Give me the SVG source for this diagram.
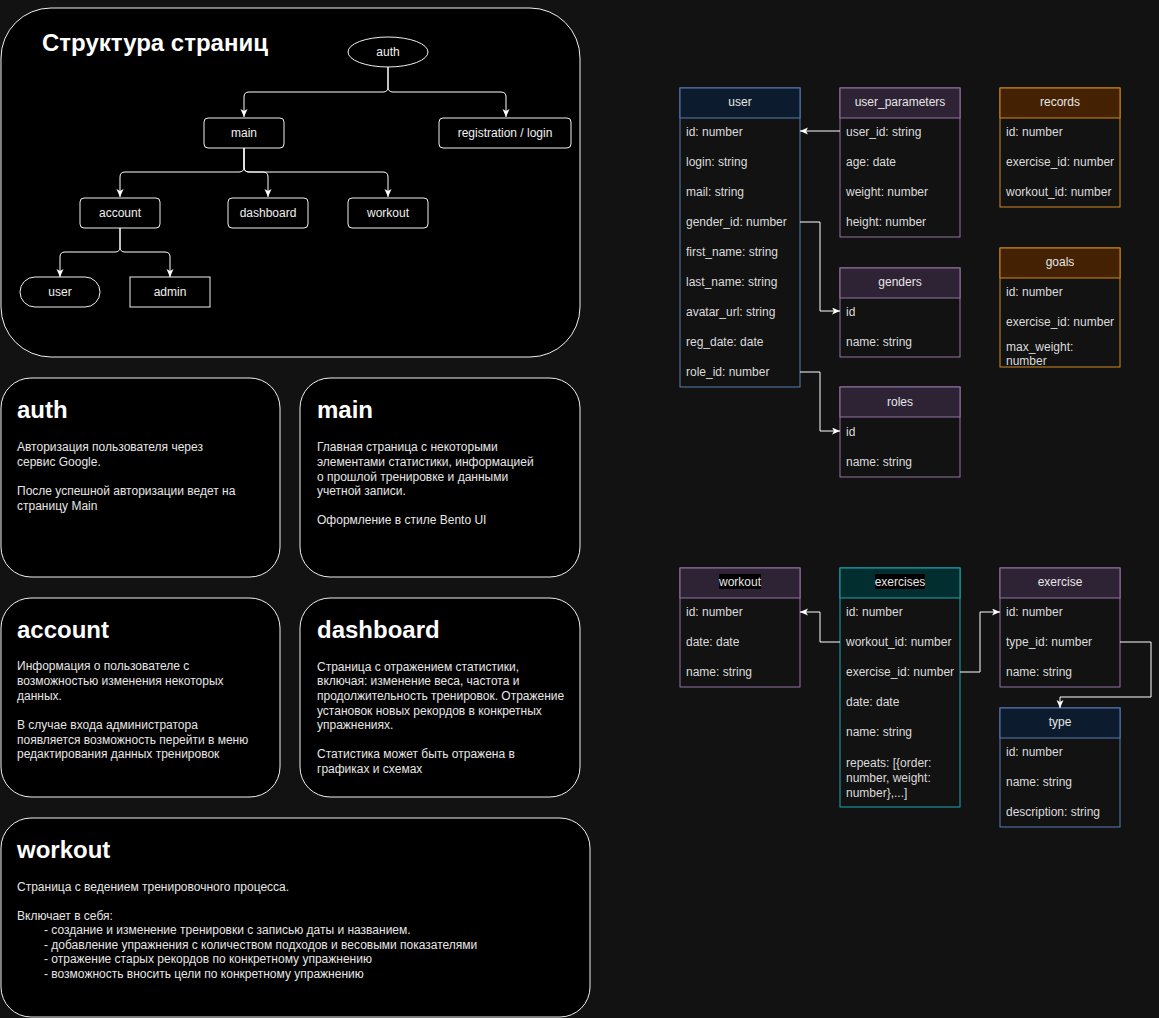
<svg xmlns="http://www.w3.org/2000/svg" width="1159" height="1018" viewBox="0 0 1159 1018">
<style>
.bg{fill:#121212}
.card{fill:#000;stroke:#f0f0f0;stroke-width:1}
.nd{fill:#000;stroke:#f0f0f0;stroke-width:1}
.nt{font-family:"Liberation Sans",Arial,sans-serif;font-size:12px;fill:#f0f0f0;text-anchor:middle}
.h1{font-family:"Liberation Sans",Arial,sans-serif;font-size:24px;font-weight:bold;fill:#ffffff}
.bt{font-family:"Liberation Sans",Arial,sans-serif;font-size:12px;fill:#e6e6e6}
.edge{fill:none;stroke:#ffffff;stroke-width:1}
.body{fill:#121212}
.ht{font-family:"Liberation Sans",Arial,sans-serif;font-size:12px;fill:#e6e6e6;text-anchor:middle}
.rt{font-family:"Liberation Sans",Arial,sans-serif;font-size:12px;fill:#dcdcdc}
.blue .hd{fill:#0c1b2d;stroke:#5a7db3}
.blue .body{stroke:#5a7db3}
.purple .hd{fill:#2e2235;stroke:#9673a6}
.purple .body{stroke:#9673a6}
.orange .hd{fill:#432102;stroke:#d08a21}
.orange .body{stroke:#d08a21}
.teal .hd{fill:#032e2f;stroke:#1ba6b0}
.teal .body{stroke:#1ba6b0}
</style>
<defs>
<marker id="arr" markerUnits="userSpaceOnUse" markerWidth="10" markerHeight="8" refX="8" refY="3.5" orient="auto">
<path d="M0,0 L8,3.5 L0,7 L2,3.5 Z" fill="#ffffff"/>
</marker>
</defs>
<rect class="bg" x="0" y="0" width="1159" height="1018"/>

<g id="structure">
<rect class="card" x="1" y="8" width="579" height="349" rx="50" ry="50"/>
<text class="h1" x="42" y="51">Структура страниц</text>
</g>
<g id="n-auth"><ellipse class="nd" cx="388" cy="52" rx="40" ry="15"/><text class="nt" x="388" y="56">auth</text></g>
<g id="n-main"><rect class="nd" x="204" y="118" width="80" height="30" rx="4"/><text class="nt" x="244" y="137">main</text></g>
<g id="n-reg"><rect class="nd" x="439" y="118" width="132" height="30" rx="4"/><text class="nt" x="505" y="137">registration / login</text></g>
<g id="n-account"><rect class="nd" x="80" y="198" width="80" height="30" rx="4"/><text class="nt" x="120" y="217">account</text></g>
<g id="n-dashboard"><rect class="nd" x="228" y="198" width="80" height="30" rx="4"/><text class="nt" x="268" y="217">dashboard</text></g>
<g id="n-workout"><rect class="nd" x="348" y="198" width="80" height="30" rx="4"/><text class="nt" x="388" y="217">workout</text></g>
<g id="n-user"><rect class="nd" x="20" y="277" width="80" height="30" rx="15"/><text class="nt" x="60" y="296">user</text></g>
<g id="n-admin"><rect class="nd" x="130" y="277" width="80" height="30"/><text class="nt" x="170" y="296">admin</text></g>

<g id="card-auth">
<rect class="card" x="1" y="378" width="279" height="199" rx="30"/>
<text class="h1" x="17" y="418">auth</text>
<text class="bt" x="17" y="451">Авторизация пользователя через</text>
<text class="bt" x="17" y="466">сервис Google.</text>
<text class="bt" x="17" y="495">После успешной авторизации ведет на</text>
<text class="bt" x="17" y="510">страницу Main</text>
</g>
<g id="card-main">
<rect class="card" x="300" y="378" width="280" height="199" rx="30"/>
<text class="h1" x="317" y="418">main</text>
<text class="bt" x="317" y="451">Главная страница с некоторыми</text>
<text class="bt" x="317" y="466">элементами статистики, информацией</text>
<text class="bt" x="317" y="481">о прошлой тренировке и данными</text>
<text class="bt" x="317" y="495">учетной записи.</text>
<text class="bt" x="317" y="524">Оформление в стиле Bento UI</text>
</g>
<g id="card-account">
<rect class="card" x="1" y="598" width="279" height="199" rx="30"/>
<text class="h1" x="17" y="638">account</text>
<text class="bt" x="17" y="670">Информация о пользователе с</text>
<text class="bt" x="17" y="685">возможностью изменения некоторых</text>
<text class="bt" x="17" y="700">данных.</text>
<text class="bt" x="17" y="729">В случае входа администратора</text>
<text class="bt" x="17" y="744">появляется возможность перейти в меню</text>
<text class="bt" x="17" y="758">редактирования данных тренировок</text>
</g>
<g id="card-dashboard">
<rect class="card" x="300" y="598" width="280" height="199" rx="30"/>
<text class="h1" x="317" y="638">dashboard</text>
<text class="bt" x="317" y="671">Страница с отражением статистики,</text>
<text class="bt" x="317" y="685">включая: изменение веса, частота и</text>
<text class="bt" x="317" y="700">продолжительность тренировок. Отражение</text>
<text class="bt" x="317" y="715">установок новых рекордов в конкретных</text>
<text class="bt" x="317" y="729">упражнениях.</text>
<text class="bt" x="317" y="758">Статистика может быть отражена в</text>
<text class="bt" x="317" y="773">графиках и схемах</text>
</g>
<g id="card-workout">
<rect class="card" x="1" y="818" width="589" height="199" rx="30"/>
<text class="h1" x="17" y="858">workout</text>
<text class="bt" x="17" y="891">Страница с ведением тренировочного процесса.</text>
<text class="bt" x="17" y="920">Включает в себя:</text>
<text class="bt" x="44" y="934">- создание и изменение тренировки с записью даты и названием.</text>
<text class="bt" x="44" y="949">- добавление упражнения с количеством подходов и весовыми показателями</text>
<text class="bt" x="44" y="963">- отражение старых рекордов по конкретному упражнению</text>
<text class="bt" x="44" y="978">- возможность вносить цели по конкретному упражнению</text>
</g>

<g id="t-user" class="blue">
<rect class="body" x="680" y="88" width="120" height="299"/>
<rect class="hd" x="680" y="88" width="120" height="30"/>
<text class="ht" x="740" y="106">user</text>
<text class="rt" x="686" y="136">id: number</text>
<text class="rt" x="686" y="166">login: string</text>
<text class="rt" x="686" y="196">mail: string</text>
<text class="rt" x="686" y="226">gender_id: number</text>
<text class="rt" x="686" y="256">first_name: string</text>
<text class="rt" x="686" y="286">last_name: string</text>
<text class="rt" x="686" y="316">avatar_url: string</text>
<text class="rt" x="686" y="346">reg_date: date</text>
<text class="rt" x="686" y="376">role_id: number</text>
</g>
<g id="t-user_parameters" class="purple">
<rect class="body" x="840" y="88" width="120" height="149"/>
<rect class="hd" x="840" y="88" width="120" height="30"/>
<text class="ht" x="900" y="106">user_parameters</text>
<text class="rt" x="846" y="136">user_id: string</text>
<text class="rt" x="846" y="166">age: date</text>
<text class="rt" x="846" y="196">weight: number</text>
<text class="rt" x="846" y="226">height: number</text>
</g>
<g id="t-records" class="orange">
<rect class="body" x="1000" y="88" width="120" height="119"/>
<rect class="hd" x="1000" y="88" width="120" height="30"/>
<text class="ht" x="1060" y="106">records</text>
<text class="rt" x="1006" y="136">id: number</text>
<text class="rt" x="1006" y="166">exercise_id: number</text>
<text class="rt" x="1006" y="196">workout_id: number</text>
</g>
<g id="t-goals" class="orange">
<rect class="body" x="1000" y="248" width="120" height="119"/>
<rect class="hd" x="1000" y="248" width="120" height="30"/>
<text class="ht" x="1060" y="266">goals</text>
<text class="rt" x="1006" y="296">id: number</text>
<text class="rt" x="1006" y="326">exercise_id: number</text>
<text class="rt" x="1006" y="351">max_weight:</text>
<text class="rt" x="1006" y="365">number</text>
</g>
<g id="t-genders" class="purple">
<rect class="body" x="840" y="268" width="120" height="89"/>
<rect class="hd" x="840" y="268" width="120" height="30"/>
<text class="ht" x="900" y="286">genders</text>
<text class="rt" x="846" y="316">id</text>
<text class="rt" x="846" y="346">name: string</text>
</g>
<g id="t-roles" class="purple">
<rect class="body" x="840" y="387" width="120" height="90"/>
<rect class="hd" x="840" y="387" width="120" height="30"/>
<text class="ht" x="900" y="406">roles</text>
<text class="rt" x="846" y="436">id</text>
<text class="rt" x="846" y="466">name: string</text>
</g>
<g id="t-workout" class="purple">
<rect class="body" x="680" y="568" width="120" height="119"/>
<rect class="hd" x="680" y="568" width="120" height="30"/>
<rect x="719" y="574" width="42" height="15" fill="#000"/>
<text class="ht" x="740" y="586">workout</text>
<text class="rt" x="686" y="616">id: number</text>
<text class="rt" x="686" y="646">date: date</text>
<text class="rt" x="686" y="676">name: string</text>
</g>
<g id="t-exercises" class="teal">
<rect class="body" x="840" y="568" width="120" height="239"/>
<rect class="hd" x="840" y="568" width="120" height="30"/>
<rect x="875" y="574" width="50" height="15" fill="#000"/>
<text class="ht" x="900" y="586">exercises</text>
<text class="rt" x="846" y="616">id: number</text>
<text class="rt" x="846" y="646">workout_id: number</text>
<text class="rt" x="846" y="676">exercise_id: number</text>
<text class="rt" x="846" y="706">date: date</text>
<text class="rt" x="846" y="736">name: string</text>
<text class="rt" x="846" y="767">repeats: [{order:</text>
<text class="rt" x="846" y="782">number, weight:</text>
<text class="rt" x="846" y="797">number},...]</text>
</g>
<g id="t-exercise" class="purple">
<rect class="body" x="1000" y="568" width="120" height="119"/>
<rect class="hd" x="1000" y="568" width="120" height="30"/>
<text class="ht" x="1060" y="586">exercise</text>
<text class="rt" x="1006" y="616">id: number</text>
<text class="rt" x="1006" y="646">type_id: number</text>
<text class="rt" x="1006" y="676">name: string</text>
</g>
<g id="t-type" class="blue">
<rect class="body" x="1000" y="708" width="120" height="119"/>
<rect class="hd" x="1000" y="708" width="120" height="30"/>
<text class="ht" x="1060" y="726">type</text>
<text class="rt" x="1006" y="756">id: number</text>
<text class="rt" x="1006" y="786">name: string</text>
<text class="rt" x="1006" y="816">description: string</text>
</g>

<g id="connectors">
<path class="edge" marker-end="url(#arr)" d="M388,67 V87 Q388,92 383,92 H249 Q244,92 244,97 V117"/>
<path class="edge" marker-end="url(#arr)" d="M388,67 V87 Q388,92 393,92 H501 Q506,92 506,97 V117"/>
<path class="edge" marker-end="url(#arr)" d="M244,148 V167 Q244,172 239,172 H125 Q120,172 120,177 V197"/>
<path class="edge" marker-end="url(#arr)" d="M244,148 V167 Q244,172 249,172 H263 Q268,172 268,177 V197"/>
<path class="edge" marker-end="url(#arr)" d="M244,148 V167 Q244,172 249,172 H383 Q388,172 388,177 V197"/>
<path class="edge" marker-end="url(#arr)" d="M120,228 V247 Q120,252 115,252 H65 Q60,252 60,257 V277"/>
<path class="edge" marker-end="url(#arr)" d="M120,228 V247 Q120,252 125,252 H165 Q170,252 170,257 V277"/>
<path class="edge" marker-end="url(#arr)" d="M840,131 H800"/>
<path class="edge" marker-end="url(#arr)" d="M800,222 H820 V311 H840"/>
<path class="edge" marker-end="url(#arr)" d="M800,372 H820 V431 H840"/>
<path class="edge" marker-end="url(#arr)" d="M840,642 H820 V612 H800"/>
<path class="edge" marker-end="url(#arr)" d="M960,672 H980 V612 H1000"/>
<path class="edge" marker-end="url(#arr)" d="M1120,642 H1151 V697 H1060 V708"/>
</g>
</svg>
